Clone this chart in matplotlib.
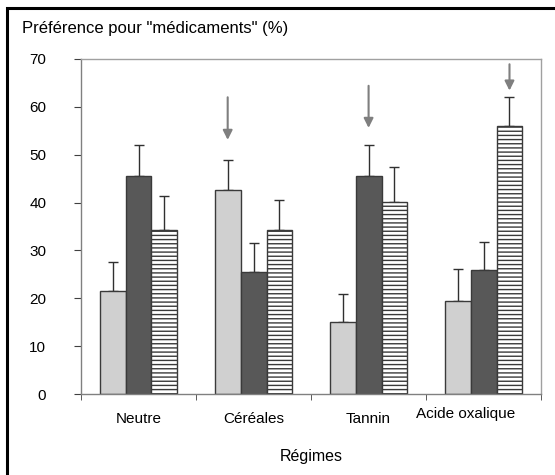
import matplotlib.pyplot as plt
import numpy as np
import matplotlib.transforms as mtransforms
from matplotlib.patches import Rectangle

plt.rcParams['font.family'] = ['Liberation Sans', 'DejaVu Sans']
plt.rcParams['hatch.linewidth'] = 1.0

regimes = ['Neutre', 'Céréales', 'Tannin', 'Acide oxalique']
clair = [21.5, 42.7, 15.0, 19.5]
fonce = [45.5, 25.5, 45.5, 26.0]
raye = [34.2, 34.2, 40.2, 56.0]
err_clair = [6.0, 6.3, 6.0, 6.7]
err_fonce = [6.5, 6.0, 6.5, 5.8]
err_raye = [7.1, 6.4, 7.3, 6.0]
# fleches: (categorie, serie, haut, pointe)
fleches = [(1, 0, 62.0, 53.1), (2, 1, 64.4, 55.6), (3, 2, 68.9, 63.4)]

fig = plt.figure(figsize=(5.55, 4.75), dpi=100)
ax = fig.add_axes([0.146, 0.1705, 0.829, 0.7053])

x = np.arange(len(regimes))
w = 0.225
series = [(clair, err_clair, '#d0d0d0', None),
          (fonce, err_fonce, '#585858', None),
          (raye, err_raye, 'white', '----')]
for i, (vals, errs, col, hatch) in enumerate(series):
    xs = x + (i - 1) * w
    ax.bar(xs, vals, w, color=col, edgecolor='#3a3a3a', linewidth=1.0,
           hatch=hatch, zorder=2)
    ax.errorbar(xs, vals, yerr=[np.zeros(len(vals)), errs], fmt='none',
                ecolor='#303030', elinewidth=1.0, capsize=3.5, capthick=1.0,
                zorder=1)

for c, s, top, tip in fleches:
    xa = x[c] + (s - 1) * w
    ax.annotate('', xy=(xa, tip), xytext=(xa, top),
                arrowprops=dict(arrowstyle='-|>', color='#7f7f7f', lw=1.5,
                                mutation_scale=14, shrinkA=0, shrinkB=0))

ax.set_xlim(-0.5, 3.5)
ax.set_ylim(0, 70)
ax.set_yticks(np.arange(0, 71, 10))
ax.set_xticks(x)
ax.set_xticklabels(regimes, fontsize=11)
ax.set_xticks(np.arange(-0.5, 3.6, 1), minor=True)
ax.tick_params(axis='x', which='major', length=0, pad=13)
ax.tick_params(axis='x', which='minor', length=4, color='#404040', direction='out')
ax.tick_params(axis='y', length=5, color='#404040', direction='out', pad=20, labelsize=11)
# "Acide oxalique" decale vers la gauche et vers le haut comme dans Excel
lab = ax.get_xticklabels()[3]
lab.set_transform(lab.get_transform() + mtransforms.ScaledTranslation(-0.18, 0.05, fig.dpi_scale_trans))
for sp in ax.spines.values():
    sp.set_color('#a0a0a0')
    sp.set_linewidth(1.0)
ax.spines['bottom'].set_color('#808080')
ax.spines['left'].set_color('#808080')

fig.text(0.04, 0.941, 'Préférence pour "médicaments" (%)', fontsize=12, ha='left', va='center')
fig.text(0.56, 0.038, 'Régimes', fontsize=11.5, ha='center', va='center')

fig.patches.append(Rectangle((0.012, -0.5), 1.5, 1.483, transform=fig.transFigure,
                             fill=False, edgecolor='black', linewidth=2.2, clip_on=False))

fig.savefig('out.png', dpi=100)
